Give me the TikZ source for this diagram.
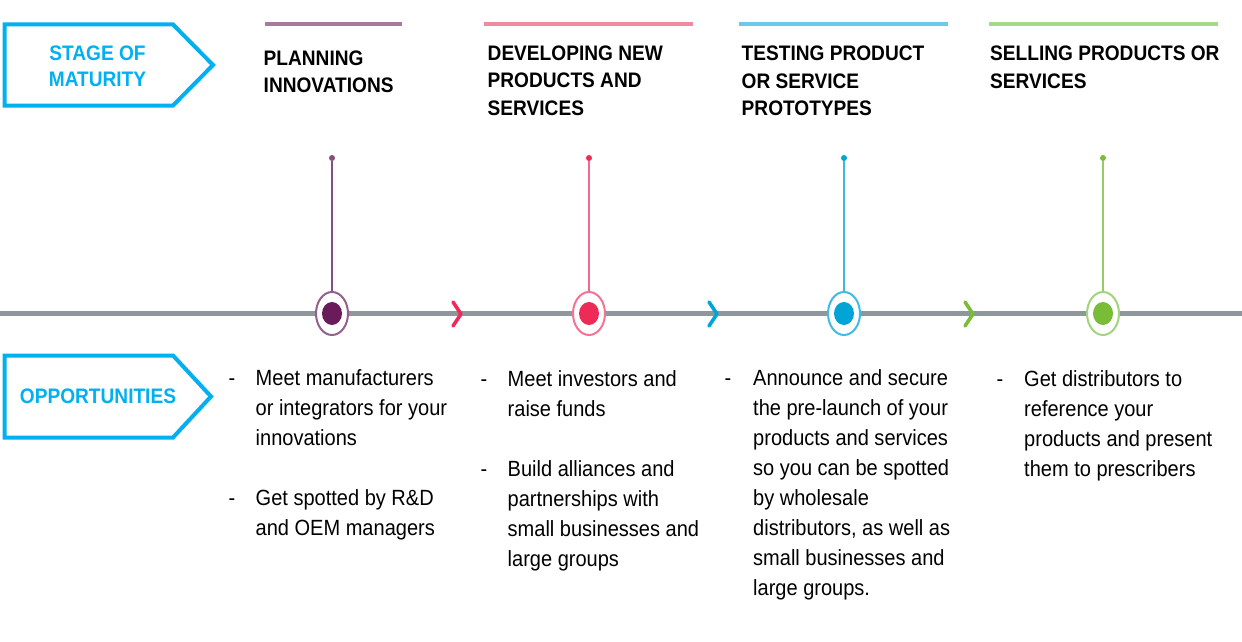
\documentclass[tikz,border=0pt]{standalone}
\usepackage{fontspec}
\setmainfont{Liberation Sans}[FakeStretch=0.91]
\usetikzlibrary{shapes.geometric}
\definecolor{cyanbox}{HTML}{00B0F0}
\definecolor{tlgray}{HTML}{8E979B}
\definecolor{purBar}{HTML}{A77A9F}
\definecolor{purStem}{HTML}{85507C}
\definecolor{purRing}{HTML}{93608B}
\definecolor{purDot}{HTML}{6A1B5A}
\definecolor{pinBar}{HTML}{F08AA0}
\definecolor{pinStem}{HTML}{F06A8A}
\definecolor{pinRing}{HTML}{F07592}
\definecolor{pinDot}{HTML}{EE2A58}
\definecolor{bluBar}{HTML}{6CCAE8}
\definecolor{bluStem}{HTML}{3DB8E0}
\definecolor{bluRing}{HTML}{40BCE4}
\definecolor{bluDot}{HTML}{00A4D6}
\definecolor{grnBar}{HTML}{A6D98A}
\definecolor{grnStem}{HTML}{94CC6C}
\definecolor{grnRing}{HTML}{A2D47C}
\definecolor{grnDot}{HTML}{78BC38}
\tikzset{
  body/.style={anchor=north west, inner sep=0pt, align=left, font=\fontsize{22}{30}\selectfont},
  dashmark/.style={anchor=north, inner sep=0pt, font=\fontsize{22}{30}\selectfont},
  head/.style={anchor=north west, inner sep=0pt, align=left, font=\bfseries\fontsize{21}{27.5}\selectfont},
  boxtext/.style={anchor=north, inner sep=0pt, align=center, text=cyanbox, font=\bfseries\fontsize{21}{26}\selectfont},
  tagbox/.style={draw=cyanbox, line width=4pt, line join=miter},
  ring/.style={ellipse, draw=#1, line width=2pt, fill=white, minimum width=32pt, minimum height=43pt, inner sep=0pt},
  dotc/.style={ellipse, fill=#1, minimum width=20pt, minimum height=23pt, inner sep=0pt},
  stemtop/.style={circle, fill=#1, minimum size=6pt, inner sep=0pt},
  stem/.style={draw=#1, line width=2.2pt},
  topbar/.style={draw=#1, line width=4pt},
  chev/.style={draw=#1, line width=3.5pt, line cap=round, line join=round},
}
\begin{document}
\begin{tikzpicture}[x=1pt,y=-1pt]
\useasboundingbox[fill=white] (0,0) rectangle (1242,642);

% left tag boxes
\draw[tagbox] (4.5,24.5) -- (173,24.5) -- (213,65) -- (173,105.5) -- (4.5,105.5) -- cycle;
\node[boxtext] (stagetxt) at (97.5,41.8) {\strut STAGE OF\\MATURITY};
\draw[tagbox] (4.5,355.5) -- (173,355.5) -- (211,396.5) -- (173,437.5) -- (4.5,437.5) -- cycle;
\node[boxtext] (opptxt) at (98,385.3) {\strut OPPORTUNITIES};

% top bars
\draw[topbar=purBar] (265,24) -- (402,24);
\draw[topbar=pinBar] (484,24) -- (693,24);
\draw[topbar=bluBar] (739,24) -- (948,24);
\draw[topbar=grnBar] (989,24) -- (1218,24);

% headings
\node[head] (h1) at (263.5,45.75) {\strut PLANNING\\INNOVATIONS};
\node[head] (h2) at (487.5,40.75) {\strut DEVELOPING NEW\\PRODUCTS AND\\SERVICES};
\node[head] (h3) at (741.5,41.5) {\strut TESTING PRODUCT\\OR SERVICE\\PROTOTYPES};
\node[head] (h4) at (990,41.25) {\strut SELLING PRODUCTS OR\\SERVICES};

% timeline
\coordinate (tlA) at (0,313.5);
\coordinate (tlB) at (1242,313.5);
\draw[draw=tlgray, line width=4.5pt] (tlA) -- (tlB);

% chevrons
\draw[chev=pinDot] (453,302) -- (461,314) -- (453,326);
\draw[chev=bluDot] (709,302) -- (717,314) -- (709,326);
\draw[chev=grnDot] (965,302) -- (973,314) -- (965,326);

% milestones
\node[ring=purRing] (r1) at (332,313.5) {};
\node[dotc=purDot] (d1) at (332,313.5) {};
\node[stemtop=purStem] (t1) at (332,158) {};
\draw[stem=purStem] (t1) -- (r1.north);

\node[ring=pinRing] (r2) at (589,313.5) {};
\node[dotc=pinDot] (d2) at (589,313.5) {};
\node[stemtop=pinDot] (t2) at (589,158) {};
\draw[stem=pinStem] (t2) -- (r2.north);

\node[ring=bluRing] (r3) at (844,313.5) {};
\node[dotc=bluDot] (d3) at (844,313.5) {};
\node[stemtop=bluDot] (t3) at (844,158) {};
\draw[stem=bluStem] (t3) -- (r3.north);

\node[ring=grnRing] (r4) at (1103,313.5) {};
\node[dotc=grnDot] (d4) at (1103,313.5) {};
\node[stemtop=grnDot] (t4) at (1103,158) {};
\draw[stem=grnStem] (t4) -- (r4.north);

% opportunities text
\node[dashmark] (m11) at (232,364) {\strut -};
\node[body] (b11) at (255.5,364) {\strut Meet manufacturers\\or integrators for your\\innovations};
\node[dashmark] (m12) at (232,484) {\strut -};
\node[body] (b12) at (255.5,484) {\strut Get spotted by R\&D\\and OEM managers};

\node[dashmark] (m21) at (484,365) {\strut -};
\node[body] (b21) at (507.5,365) {\strut Meet investors and\\raise funds};
\node[dashmark] (m22) at (484,455) {\strut -};
\node[body] (b22) at (507.5,455) {\strut Build alliances and\\partnerships with\\small businesses and\\large groups};

\node[dashmark] (m31) at (728,364) {\strut -};
\node[body] (b31) at (753,364) {\strut Announce and secure\\the pre-launch of your\\products and services\\so you can be spotted\\by wholesale\\distributors, as well as\\small businesses and\\large groups.};

\node[dashmark] (m41) at (1000,365) {\strut -};
\node[body] (b41) at (1024,365) {\strut Get distributors to\\reference your\\products and present\\them to prescribers};
\end{tikzpicture}
\end{document}
